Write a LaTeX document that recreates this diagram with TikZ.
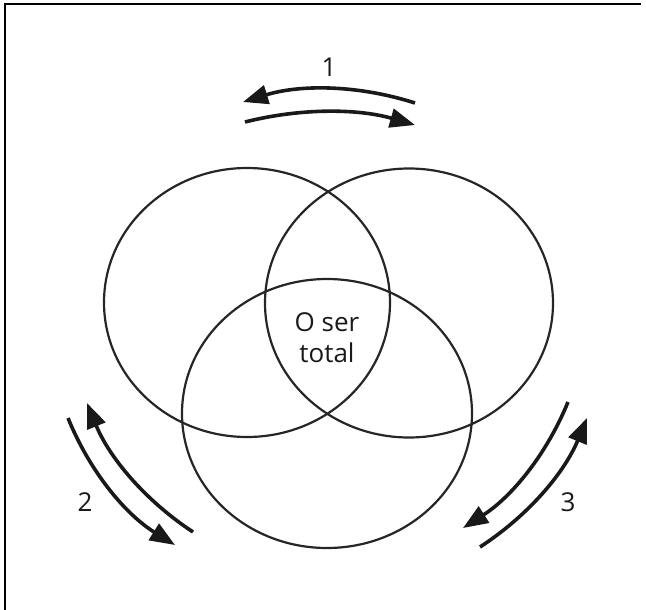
\documentclass[tikz,border=0pt]{standalone}
\usepackage{fontspec}
\setmainfont{Open Sans}
\usetikzlibrary{arrows.meta,shapes.geometric}
\begin{document}
\begin{tikzpicture}[x=1pt,y=-1pt,
  ring/.style={draw=black!85,line width=2.2pt,ellipse,inner sep=0pt,minimum height=269pt},
  flow/.style={draw=black!90,line width=3.6pt,-{Triangle[length=25pt,width=19pt]}},
  lbl/.style={font=\fontsize{26}{31}\selectfont,text=black!90,inner sep=0pt},
  frame/.style={draw=black,line width=2pt}]
\useasboundingbox (0,0) rectangle (646,610);
\coordinate (tl) at (5,4);
\coordinate (tr) at (641,4);
\coordinate (bl) at (5,610);
\draw[frame] (tr) -- (tl) -- (bl);
% circles
\node[ring,minimum width=286pt] (cl) at (247,302.5) {};
\node[ring,minimum width=288pt] (cr) at (409,303) {};
\node[ring,minimum width=290pt] (cb) at (327,413.5) {};
\node[lbl,align=center] (core) at (327,338) {O ser\\total};
% arrows pair 1
\coordinate (a1s) at (415,103);
\coordinate (a1e) at (243,102);
\coordinate (b1s) at (245,122);
\coordinate (b1e) at (415,125);
\draw[flow] (a1s) .. controls (357.7,84.7) and (300.3,84.3) .. (a1e);
\draw[flow] (b1s) .. controls (301.7,107.7) and (358.3,108.7) .. (b1e);
\node[lbl] (n1) at (329,67) {1};
% arrows pair 2
\coordinate (a2s) at (68,418);
\coordinate (a2e) at (175,545);
\coordinate (b2s) at (193,532);
\coordinate (b2e) at (87,403);
\draw[flow] (a2s) .. controls (89.9,471.9) and (125.5,514.3) .. (a2e);
\draw[flow] (b2s) .. controls (144.3,499.9) and (109,456.9) .. (b2e);
\node[lbl] (n2) at (85,502) {2};
% arrows pair 3
\coordinate (a3s) at (568,402);
\coordinate (a3e) at (463,528);
\coordinate (b3s) at (480,547);
\coordinate (b3e) at (587,418);
\draw[flow] (a3s) .. controls (546.3,455.1) and (511.3,497.1) .. (a3e);
\draw[flow] (b3s) .. controls (529,515.1) and (564.7,472.1) .. (b3e);
\node[lbl] (n3) at (568,502) {3};
\end{tikzpicture}
\end{document}
